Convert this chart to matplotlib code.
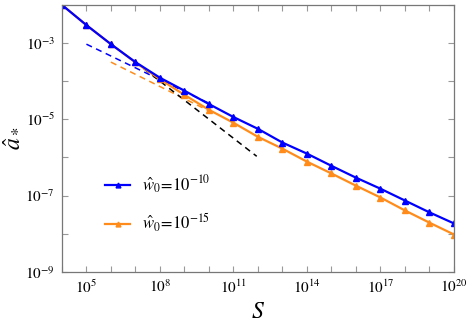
#!/usr/bin/env python3

import matplotlib
matplotlib.use('Agg')
import matplotlib.pyplot as plt
import numpy as np

plt.rcParams['font.family'] = 'serif'
plt.rcParams['font.serif'] = ['Liberation Serif', 'DejaVu Serif']
plt.rcParams['mathtext.fontset'] = 'stix'
plt.rcParams['font.size'] = 11

# log10 of S at the marker positions
logS = [4, 5, 6, 7, 8, 9, 10, 11, 12, 13, 14, 15, 16, 17, 18, 19, 20]

# log10 of a_hat for w0 = 1e-10 (blue) and w0 = 1e-15 (orange)
loga_w10 = [-2.00, -2.53, -3.03, -3.50, -3.91, -4.25, -4.60, -4.94, -5.25,
            -5.61, -5.90, -6.22, -6.53, -6.82, -7.13, -7.44, -7.73]
loga_w15 = [-2.00, -2.53, -3.03, -3.51, -3.95, -4.36, -4.75, -5.09, -5.46,
            -5.77, -6.11, -6.42, -6.74, -7.05, -7.39, -7.71, -8.02]

# asymptotes (end points, log10)
asym_w10_S = [5, 10]
asym_w10_a = [-3.03, -4.58]
asym_w15_S = [6, 10]
asym_w15_a = [-3.50, -4.78]
asym_small_S = [7, 11.95]
asym_small_a = [-3.50, -5.97]

blue = '#0000ff'
orange = '#ff8c1a'

fig = plt.figure(figsize=(4.69, 3.26), dpi=100)
ax = fig.add_axes([0.132, 0.166, 0.836, 0.819])

def p10(v):
    return 10.0 ** np.asarray(v)

ax.plot(p10(asym_w10_S), p10(asym_w10_a), '--', color=blue, lw=1.1, dashes=(4, 3))
ax.plot(p10(asym_w15_S), p10(asym_w15_a), '--', color=orange, lw=1.1, dashes=(4, 3))
ax.plot(p10(asym_small_S), p10(asym_small_a), '--', color='black', lw=1.1, dashes=(4, 3))

ax.plot(p10(logS), p10(loga_w15), '-^', color=orange, lw=1.6, ms=5,
        label=r'$\hat{w}_0\!=\!10^{-15}$')
ax.plot(p10(logS), p10(loga_w10), '-^', color=blue, lw=1.6, ms=5,
        label=r'$\hat{w}_0\!=\!10^{-10}$')

ax.set_xscale('log')
ax.set_yscale('log')
ax.set_xlim(1e4, 1e20)
ax.set_ylim(1e-9, 1e-2)

xt = np.arange(4, 21)
ax.set_xticks(10.0 ** xt)
ax.set_xticklabels([r'$10^{%d}$' % k if k % 3 == 2 else '' for k in xt])
yt = np.arange(-9, -1)
ax.set_yticks(10.0 ** yt)
ax.set_yticklabels([r'$10^{%d}$' % k if k % 2 == 1 else '' for k in yt])
ax.minorticks_off()
ax.tick_params(which='both', direction='in', length=4, width=0.8, color='#999999',
               top=True, right=True, labelsize=11, pad=5)
for s in ax.spines.values():
    s.set_color('#777777')
    s.set_linewidth(0.9)

ax.set_xlabel(r'$S$', fontsize=17, labelpad=4)
ax.set_ylabel(r'$\hat{a}_*$', fontsize=17, labelpad=2)

h, l = ax.get_legend_handles_labels()
ax.legend(h[::-1], l[::-1], loc='lower left', bbox_to_anchor=(0.072, 0.085),
          frameon=False, fontsize=12, handlelength=1.5, handletextpad=0.7,
          labelspacing=0.95, markerscale=0.7)

fig.savefig('out.png', dpi=100)
